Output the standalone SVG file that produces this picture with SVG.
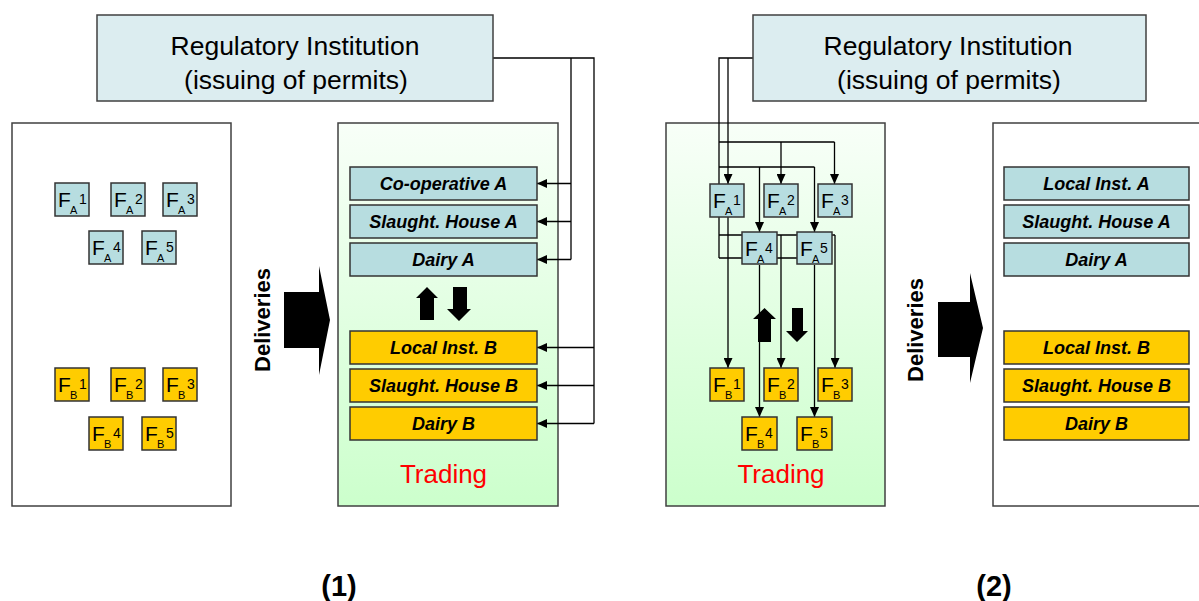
<svg xmlns="http://www.w3.org/2000/svg" width="1199" height="601" viewBox="0 0 1199 601">
  <defs>
    <linearGradient id="tradeFill" x1="0" y1="0" x2="0" y2="1">
      <stop offset="0" stop-color="#f8fff8"/>
      <stop offset="1" stop-color="#ccffcc"/>
    </linearGradient>
    <marker id="tip" markerUnits="userSpaceOnUse" markerWidth="10" markerHeight="9" refX="10" refY="4.5" orient="auto">
      <path d="M0,0 L10,4.5 L0,9 z" fill="#000"/>
    </marker>
    <style>
      .reg { fill: #dcedf0; stroke: #404040; stroke-width: 1.5; }
      .regtxt { font-family: "Liberation Sans", Arial, sans-serif; font-size: 26.5px; fill: #000; text-anchor: middle; }
      .panel { fill: #fff; stroke: #404040; stroke-width: 1.5; }
      .trade { fill: url(#tradeFill); stroke: #404040; stroke-width: 1.5; }
      .a { fill: #b7dde0; stroke: #333; stroke-width: 1.5; }
      .b { fill: #ffcc00; stroke: #333; stroke-width: 1.5; }
      .lbl { font-family: "Liberation Sans", Arial, sans-serif; font-size: 18px; font-weight: bold; font-style: italic; fill: #000; text-anchor: middle; }
      .f { font-family: "Liberation Sans", Arial, sans-serif; fill: #000; font-size: 21px; }
      .fs { font-size: 11px; }
      .fp { font-size: 14px; }
      .wire { fill: none; stroke: #000; stroke-width: 1.3; }
      .arr { marker-end: url(#tip); }
      .thick { fill: #000; }
      .deliv { font-family: "Liberation Sans", Arial, sans-serif; font-size: 22px; font-weight: bold; fill: #000; text-anchor: middle; }
      .trading { font-family: "Liberation Sans", Arial, sans-serif; font-size: 26px; fill: #ff0000; text-anchor: middle; }
      .cap { font-family: "Liberation Sans", Arial, sans-serif; font-size: 29px; font-weight: bold; fill: #000; text-anchor: middle; }
    </style>
  </defs>

  <rect width="1199" height="601" fill="#fff"/>

  <!-- panel frames -->
  <rect class="panel" x="12" y="123" width="219" height="383"/>
  <rect class="trade" x="338" y="123" width="220" height="383"/>
  <rect class="trade" x="666" y="123" width="219" height="383"/>
  <rect class="panel" x="993" y="123" width="220" height="383"/>

  <!-- connectors -->
  <g id="connectors">
    <!-- scenario 1: permits to processors -->
    <path class="wire" d="M493,58 H594 V423.5 M571,58 V259.5"/>
    <path class="wire arr" d="M571,183.5 H537"/>
    <path class="wire arr" d="M571,221.5 H537"/>
    <path class="wire arr" d="M571,259.5 H537"/>
    <path class="wire arr" d="M594,347.5 H537"/>
    <path class="wire arr" d="M594,385.5 H537"/>
    <path class="wire arr" d="M594,423.5 H537"/>

    <!-- scenario 2: permits to farms, trading between farms -->
    <path class="wire" d="M753,58 H719 V258 M719,142 H834.5 M719,167 H814.5 M719,235 H835 M719,258 H800"/>
    <path class="wire arr" d="M728,58 V184"/>
    <path class="wire arr" d="M781,142 V184"/>
    <path class="wire arr" d="M834.5,142 V184"/>
    <path class="wire arr" d="M759.5,167 V232"/>
    <path class="wire arr" d="M814.5,167 V232"/>
    <path class="wire arr" d="M728,217 V368"/>
    <path class="wire arr" d="M781,235 V368"/>
    <path class="wire arr" d="M835,235 V368"/>
    <path class="wire arr" d="M759.5,265 V417"/>
    <path class="wire arr" d="M814.5,265 V417"/>
  </g>

  <!-- regulatory institutions -->
  <g id="reg1">
    <rect class="reg" x="97" y="15" width="396" height="86"/>
    <text class="regtxt" x="295" y="55">Regulatory Institution</text>
    <text class="regtxt" x="296" y="89">(issuing of permits)</text>
  </g>
  <g id="reg2">
    <rect class="reg" x="753" y="15" width="393" height="86"/>
    <text class="regtxt" x="948" y="55">Regulatory Institution</text>
    <text class="regtxt" x="949" y="89">(issuing of permits)</text>
  </g>

  <!-- scenario 1, farms -->
  <g id="p1-fa1"><rect class="a" x="55" y="183" width="34" height="33"/><text class="f" x="58" y="207">F<tspan class="fs" x="70" y="214">A</tspan><tspan class="fp" x="79" y="204">1</tspan></text></g>
  <g id="p1-fa2"><rect class="a" x="111" y="183" width="34" height="33"/><text class="f" x="114" y="207">F<tspan class="fs" x="126" y="214">A</tspan><tspan class="fp" x="135" y="204">2</tspan></text></g>
  <g id="p1-fa3"><rect class="a" x="163" y="183" width="34" height="33"/><text class="f" x="166" y="207">F<tspan class="fs" x="178" y="214">A</tspan><tspan class="fp" x="187" y="204">3</tspan></text></g>
  <g id="p1-fa4"><rect class="a" x="89" y="231" width="34" height="33"/><text class="f" x="92" y="255">F<tspan class="fs" x="104" y="262">A</tspan><tspan class="fp" x="113" y="252">4</tspan></text></g>
  <g id="p1-fa5"><rect class="a" x="142" y="231" width="34" height="33"/><text class="f" x="145" y="255">F<tspan class="fs" x="157" y="262">A</tspan><tspan class="fp" x="166" y="252">5</tspan></text></g>
  <g id="p1-fb1"><rect class="b" x="55" y="368" width="34" height="33"/><text class="f" x="58" y="392">F<tspan class="fs" x="70" y="399">B</tspan><tspan class="fp" x="79" y="389">1</tspan></text></g>
  <g id="p1-fb2"><rect class="b" x="111" y="368" width="34" height="33"/><text class="f" x="114" y="392">F<tspan class="fs" x="126" y="399">B</tspan><tspan class="fp" x="135" y="389">2</tspan></text></g>
  <g id="p1-fb3"><rect class="b" x="163" y="368" width="34" height="33"/><text class="f" x="166" y="392">F<tspan class="fs" x="178" y="399">B</tspan><tspan class="fp" x="187" y="389">3</tspan></text></g>
  <g id="p1-fb4"><rect class="b" x="89" y="417" width="34" height="33"/><text class="f" x="92" y="441">F<tspan class="fs" x="104" y="448">B</tspan><tspan class="fp" x="113" y="438">4</tspan></text></g>
  <g id="p1-fb5"><rect class="b" x="142" y="417" width="34" height="33"/><text class="f" x="145" y="441">F<tspan class="fs" x="157" y="448">B</tspan><tspan class="fp" x="166" y="438">5</tspan></text></g>

  <!-- scenario 1, deliveries -->
  <g id="p1-deliveries">
    <text class="deliv" transform="translate(270,320) rotate(-90)">Deliveries</text>
    <polygon class="thick" points="284,292 319,292 319,266 330,320 319,375 319,348 284,348"/>
  </g>

  <!-- scenario 1, processors -->
  <g id="p1-coop"><rect class="a" x="350" y="167" width="187" height="33"/><text class="lbl" x="443.5" y="190">Co-operative A</text></g>
  <g id="p1-sha"><rect class="a" x="350" y="205" width="187" height="33"/><text class="lbl" x="443.5" y="228">Slaught. House A</text></g>
  <g id="p1-dairya"><rect class="a" x="350" y="243" width="187" height="33"/><text class="lbl" x="443.5" y="266">Dairy A</text></g>
  <g id="p1-localb"><rect class="b" x="350" y="331" width="187" height="33"/><text class="lbl" x="443.5" y="354">Local Inst. B</text></g>
  <g id="p1-shb"><rect class="b" x="350" y="369" width="187" height="33"/><text class="lbl" x="443.5" y="392">Slaught. House B</text></g>
  <g id="p1-dairyb"><rect class="b" x="350" y="407" width="187" height="33"/><text class="lbl" x="443.5" y="430">Dairy B</text></g>

  <g id="p1-trade-arrows">
    <polygon class="thick" points="427,287 438,298 434,298 434,320 420,320 420,298 416,298"/>
    <polygon class="thick" points="453,287 467,287 467,309 471,309 459,321 447,309 453,309"/>
  </g>
  <text class="trading" x="443.5" y="483">Trading</text>

  <!-- scenario 2, farms -->
  <g id="p2-fa1"><rect class="a" x="710" y="184" width="34" height="33"/><text class="f" x="713" y="208">F<tspan class="fs" x="725" y="215">A</tspan><tspan class="fp" x="733" y="205">1</tspan></text></g>
  <g id="p2-fa2"><rect class="a" x="764" y="184" width="34" height="33"/><text class="f" x="767" y="208">F<tspan class="fs" x="779" y="215">A</tspan><tspan class="fp" x="787" y="205">2</tspan></text></g>
  <g id="p2-fa3"><rect class="a" x="818" y="184" width="34" height="33"/><text class="f" x="821" y="208">F<tspan class="fs" x="833" y="215">A</tspan><tspan class="fp" x="841" y="205">3</tspan></text></g>
  <g id="p2-fa4"><rect class="a" x="742" y="232" width="35" height="32"/><text class="f" x="745" y="256">F<tspan class="fs" x="757" y="263">A</tspan><tspan class="fp" x="765" y="253">4</tspan></text></g>
  <g id="p2-fa5"><rect class="a" x="797" y="232" width="35" height="32"/><text class="f" x="800" y="256">F<tspan class="fs" x="812" y="263">A</tspan><tspan class="fp" x="820" y="253">5</tspan></text></g>
  <g id="p2-fb1"><rect class="b" x="710" y="368" width="34" height="33"/><text class="f" x="713" y="392">F<tspan class="fs" x="725" y="399">B</tspan><tspan class="fp" x="733" y="389">1</tspan></text></g>
  <g id="p2-fb2"><rect class="b" x="764" y="368" width="34" height="33"/><text class="f" x="767" y="392">F<tspan class="fs" x="779" y="399">B</tspan><tspan class="fp" x="787" y="389">2</tspan></text></g>
  <g id="p2-fb3"><rect class="b" x="818" y="368" width="34" height="33"/><text class="f" x="821" y="392">F<tspan class="fs" x="833" y="399">B</tspan><tspan class="fp" x="841" y="389">3</tspan></text></g>
  <g id="p2-fb4"><rect class="b" x="742" y="417" width="35" height="33"/><text class="f" x="745" y="441">F<tspan class="fs" x="757" y="448">B</tspan><tspan class="fp" x="765" y="438">4</tspan></text></g>
  <g id="p2-fb5"><rect class="b" x="797" y="417" width="35" height="33"/><text class="f" x="800" y="441">F<tspan class="fs" x="812" y="448">B</tspan><tspan class="fp" x="820" y="438">5</tspan></text></g>

  <g id="p2-trade-arrows">
    <polygon class="thick" points="764.5,308 776,319 771,319 771,342 758,342 758,319 753,319"/>
    <polygon class="thick" points="792,308 803,308 803,331 808,331 797,342 786,331 792,331"/>
  </g>
  <text class="trading" x="781" y="483">Trading</text>

  <!-- scenario 2, deliveries -->
  <g id="p2-deliveries">
    <text class="deliv" transform="translate(923,330) rotate(-90)">Deliveries</text>
    <polygon class="thick" points="938,302 970,302 970,273 983,328 970,383 970,357 938,357"/>
  </g>

  <!-- scenario 2, processors -->
  <g id="p2-locala"><rect class="a" x="1004" y="167" width="185" height="33"/><text class="lbl" x="1096.5" y="190">Local Inst. A</text></g>
  <g id="p2-sha"><rect class="a" x="1004" y="205" width="185" height="33"/><text class="lbl" x="1096.5" y="228">Slaught. House A</text></g>
  <g id="p2-dairya"><rect class="a" x="1004" y="243" width="185" height="33"/><text class="lbl" x="1096.5" y="266">Dairy A</text></g>
  <g id="p2-localb"><rect class="b" x="1004" y="331" width="185" height="33"/><text class="lbl" x="1096.5" y="354">Local Inst. B</text></g>
  <g id="p2-shb"><rect class="b" x="1004" y="369" width="185" height="33"/><text class="lbl" x="1096.5" y="392">Slaught. House B</text></g>
  <g id="p2-dairyb"><rect class="b" x="1004" y="407" width="185" height="33"/><text class="lbl" x="1096.5" y="430">Dairy B</text></g>

  <!-- captions -->
  <text class="cap" x="339" y="596">(1)</text>
  <text class="cap" x="994" y="596">(2)</text>
</svg>
